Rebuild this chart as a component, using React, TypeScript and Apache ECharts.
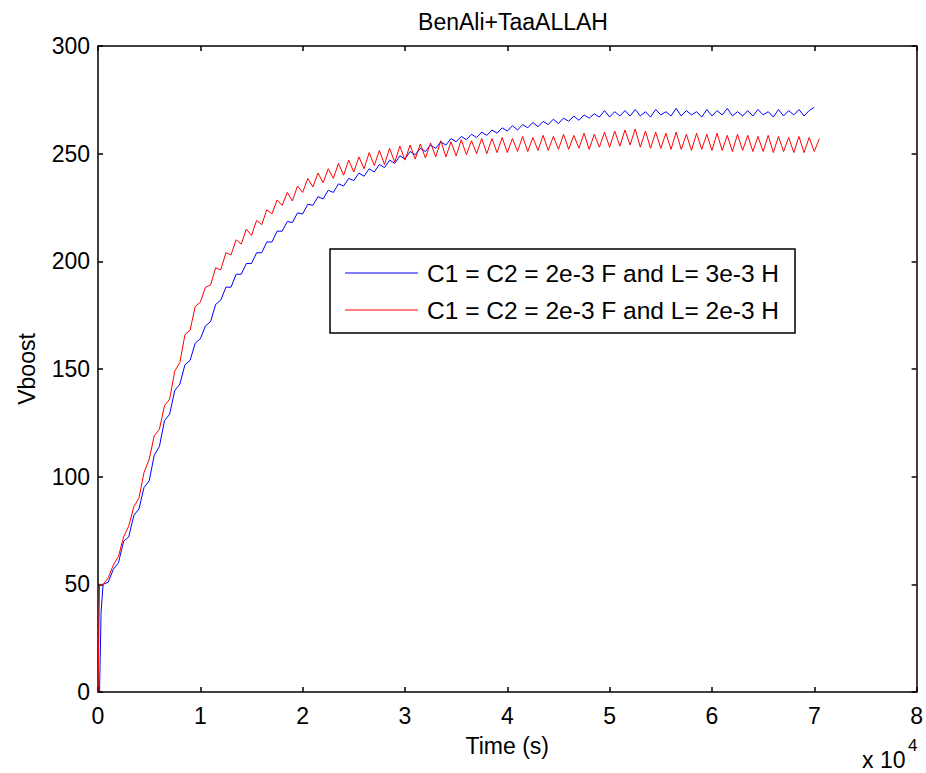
import React, { useEffect, useRef } from "react";
import * as echarts from "echarts";

const titleText = "BenAli+TaaALLAH";
const xAxisName = "Time (s)";
const yAxisName = "Vboost";
const seriesNames = ["C1 = C2 = 2e-3 F and L= 3e-3 H", "C1 = C2 = 2e-3 F and L= 2e-3 H"];
const seriesColors = ["#0000ff", "#ff0000"];
const xTicks = [0, 1, 2, 3, 4, 5, 6, 7, 8];
const yTicks = [0, 50, 100, 150, 200, 250, 300];

// time in units of 10^4 s
const timeStart = [0, 0.015, 0.03, 0.05, 0.1];
const timeMain = [
  0.15, 0.2, 0.25, 0.3, 0.35, 0.4, 0.45, 0.5, 0.55, 0.6, 0.65, 0.7, 0.75, 0.8, 0.85, 0.9, 0.95, 1.0,
  1.05, 1.1, 1.15, 1.2, 1.25, 1.3, 1.35, 1.4, 1.45, 1.5, 1.55, 1.6, 1.65, 1.7, 1.75, 1.8, 1.85, 1.9, 1.95, 2.0,
  2.05, 2.1, 2.15, 2.2, 2.25, 2.3, 2.35, 2.4, 2.45, 2.5, 2.55, 2.6, 2.65, 2.7, 2.75, 2.8, 2.85, 2.9, 2.95, 3.0,
  3.05, 3.1, 3.15, 3.2, 3.25, 3.3, 3.35, 3.4, 3.45, 3.5, 3.55, 3.6, 3.65, 3.7, 3.75, 3.8, 3.85, 3.9, 3.95, 4.0,
  4.05, 4.1, 4.15, 4.2, 4.25, 4.3, 4.35, 4.4, 4.45, 4.5, 4.55, 4.6, 4.65, 4.7, 4.75, 4.8, 4.85, 4.9, 4.95, 5.0,
  5.05, 5.1, 5.15, 5.2, 5.25, 5.3, 5.35, 5.4, 5.45, 5.5, 5.55, 5.6, 5.65, 5.7, 5.75, 5.8, 5.85, 5.9, 5.95, 6.0,
  6.05, 6.1, 6.15, 6.2, 6.25, 6.3, 6.35, 6.4, 6.45, 6.5, 6.55, 6.6, 6.65, 6.7, 6.75, 6.8, 6.85, 6.9, 6.95, 7.0,
  7.05,
];

const blueStart = [0, 0, 37, 50, 51];
const blueMain = [
  57, 60, 70, 72, 82, 85, 95, 98, 110, 114, 126, 129, 140, 143, 152, 154, 162, 164,
  170, 172, 180, 182, 188, 188, 194, 194, 199, 199, 204, 204, 209, 209, 214, 214, 218.5, 218, 222.5, 222,
  226.5, 226, 230, 229, 233, 232, 236, 235, 238.5, 237.5, 241, 239.5, 243, 241.5, 245, 243.5, 247, 245.5, 249, 247.5,
  251, 249.5, 252.5, 251, 254, 252.5, 255.5, 254, 257, 255.5, 258, 256.5, 259, 257.5, 260, 258.5, 261, 259.5, 262, 260.5,
  263, 261, 263.5, 262, 264.5, 262.5, 265, 263.5, 266, 264, 266.5, 265, 267.5, 265.5, 268, 266.5, 268.5, 267, 270, 267,
  269.5, 267.5, 270, 267.5, 270.5, 267.5, 269.5, 267, 270.5, 268, 269.5, 267.5, 271, 267.5, 270, 268, 269.5, 267, 270.5, 267.5,
  270, 268, 271, 267.5, 269.5, 267.5, 270, 267.5, 270.5, 268, 269.5, 267, 270.5, 267.5, 270, 268, 270.5, 267.5, 270, 271.5,
  null,
];

const redStart = [0, 50, 50, 50, 53];
const redMain = [
  59, 63, 72, 77, 86, 90, 102, 108, 119, 122, 133, 136, 149, 153, 166, 168, 179, 181,
  188, 189, 197, 196, 204, 203, 210, 208, 215, 212, 219, 217, 224, 222, 228.5, 226, 232, 228, 235, 232,
  238.5, 234.5, 241, 236.5, 243, 238.5, 245.5, 240, 247, 241.5, 248.5, 243, 250.5, 244.5, 251.5, 245, 252.5, 246, 253.5, 247,
  254, 247.5, 254.5, 248, 255, 248.5, 256, 248.5, 255.5, 249, 256.5, 249.5, 256, 250, 257, 250, 257, 250.5, 257.5, 250.5,
  257, 251, 258, 251, 257.5, 251.5, 258.5, 251.5, 258, 252, 259, 252, 258.5, 252.5, 259.5, 252, 259, 253, 260, 253,
  260.5, 253.5, 261, 254, 261.5, 253, 260.5, 252.5, 260, 252.5, 259.5, 252, 260, 252, 259, 251.5, 259.5, 252, 259, 251.5,
  259.5, 251.5, 258.5, 251, 259, 251.5, 258.5, 251, 258, 251, 258.5, 250.5, 258, 251, 257.5, 250.5, 258, 250.5, 257.5, 251,
  257,
];

const FONT = "'Liberation Sans', Arial, sans-serif";
const FS = 23;

function pairs(t: number[], v: (number | null)[]) {
  const out: any[] = [];
  for (let i = 0; i < t.length; i++) {
    if (v[i] !== null && v[i] !== undefined) out.push([t[i], v[i]]);
  }
  return out;
}

export default function App() {
  const ref = useRef<HTMLDivElement>(null);
  useEffect(() => {
    if (!ref.current) return;
    const chart = echarts.init(ref.current, undefined, { renderer: "svg" });
    const time = timeStart.concat(timeMain);
    const blue = pairs(time, (blueStart as (number | null)[]).concat(blueMain));
    const red = pairs(time, (redStart as (number | null)[]).concat(redMain));
    const axisCommon = {
      axisLine: { show: true, onZero: false, lineStyle: { color: "#000", width: 1.5 } },
      axisTick: { show: true, inside: true, length: 5, lineStyle: { color: "#000", width: 1.5 } },
      splitLine: { show: false },
    };
    const legendLeft = 330;
    const legendTop = 249;
    const legendRowY = [273, 310];
    chart.setOption({
      animation: false,
      backgroundColor: "#fff",
      title: {
        text: titleText,
        left: 508,
        textAlign: "center",
        top: 5,
        textStyle: { fontFamily: FONT, fontSize: FS, fontWeight: "normal", color: "#000" },
      },
      grid: { left: 98, right: 8, top: 46, bottom: 81, containLabel: false },
      xAxis: [
        {
          type: "value",
          min: 0,
          max: 8,
          interval: 1,
          position: "bottom",
          ...axisCommon,
          axisLabel: { show: true, color: "#000", fontFamily: FONT, fontSize: FS, margin: 12, formatter: (v: number) => (xTicks.includes(v) ? String(v) : "") },
          name: xAxisName,
          nameLocation: "middle",
          nameGap: 42,
          nameTextStyle: { fontFamily: FONT, fontSize: FS, color: "#000" },
        },
        {
          type: "value",
          min: 0,
          max: 8,
          interval: 1,
          position: "top",
          ...axisCommon,
          axisLabel: { show: false },
        },
      ],
      yAxis: [
        {
          type: "value",
          min: 0,
          max: 300,
          interval: 50,
          position: "left",
          ...axisCommon,
          axisLabel: { show: true, color: "#000", fontFamily: FONT, fontSize: FS, margin: 8, formatter: (v: number) => (yTicks.includes(v) ? String(v) : "") },
          name: yAxisName,
          nameLocation: "middle",
          nameGap: 60,
          nameRotate: 90,
          nameTextStyle: { fontFamily: FONT, fontSize: FS, color: "#000" },
        },
        {
          type: "value",
          min: 0,
          max: 300,
          interval: 50,
          position: "right",
          ...axisCommon,
          axisLabel: { show: false },
        },
      ],
      graphic: [
        {
          type: "text",
          left: 862,
          top: 748,
          style: { text: "x 10", fontFamily: FONT, fontSize: FS, fill: "#000" },
        },
        {
          type: "text",
          left: 908,
          top: 737,
          style: { text: "4", fontFamily: FONT, fontSize: 17, fill: "#000" },
        },
        {
          type: "rect",
          shape: { x: legendLeft, y: legendTop, width: 465, height: 84 },
          style: { fill: "#fff", stroke: "#000", lineWidth: 1.5 },
          z: 100,
        },
        ...seriesNames.flatMap((name, i) => [
          {
            type: "line",
            shape: { x1: 345, y1: legendRowY[i], x2: 418, y2: legendRowY[i] },
            style: { stroke: seriesColors[i], lineWidth: 1 },
            z: 101,
          },
          {
            type: "text",
            x: 427,
            y: legendRowY[i],
            style: { text: name, fontFamily: FONT, fontSize: 24.5, fill: "#000", textVerticalAlign: "middle", verticalAlign: "middle" },
            z: 101,
          },
        ]),
      ],
      series: [
        {
          name: seriesNames[0],
          type: "line",
          data: blue,
          symbol: "none",
          lineStyle: { color: seriesColors[0], width: 1 },
          itemStyle: { color: seriesColors[0] },
        },
        {
          name: seriesNames[1],
          type: "line",
          data: red,
          symbol: "none",
          lineStyle: { color: seriesColors[1], width: 1 },
          itemStyle: { color: seriesColors[1] },
        },
      ],
    });
    return () => chart.dispose();
  }, []);
  return <div ref={ref} style={{ width: 926, height: 773, position: "absolute", left: 0, top: 0 }} />;
}
